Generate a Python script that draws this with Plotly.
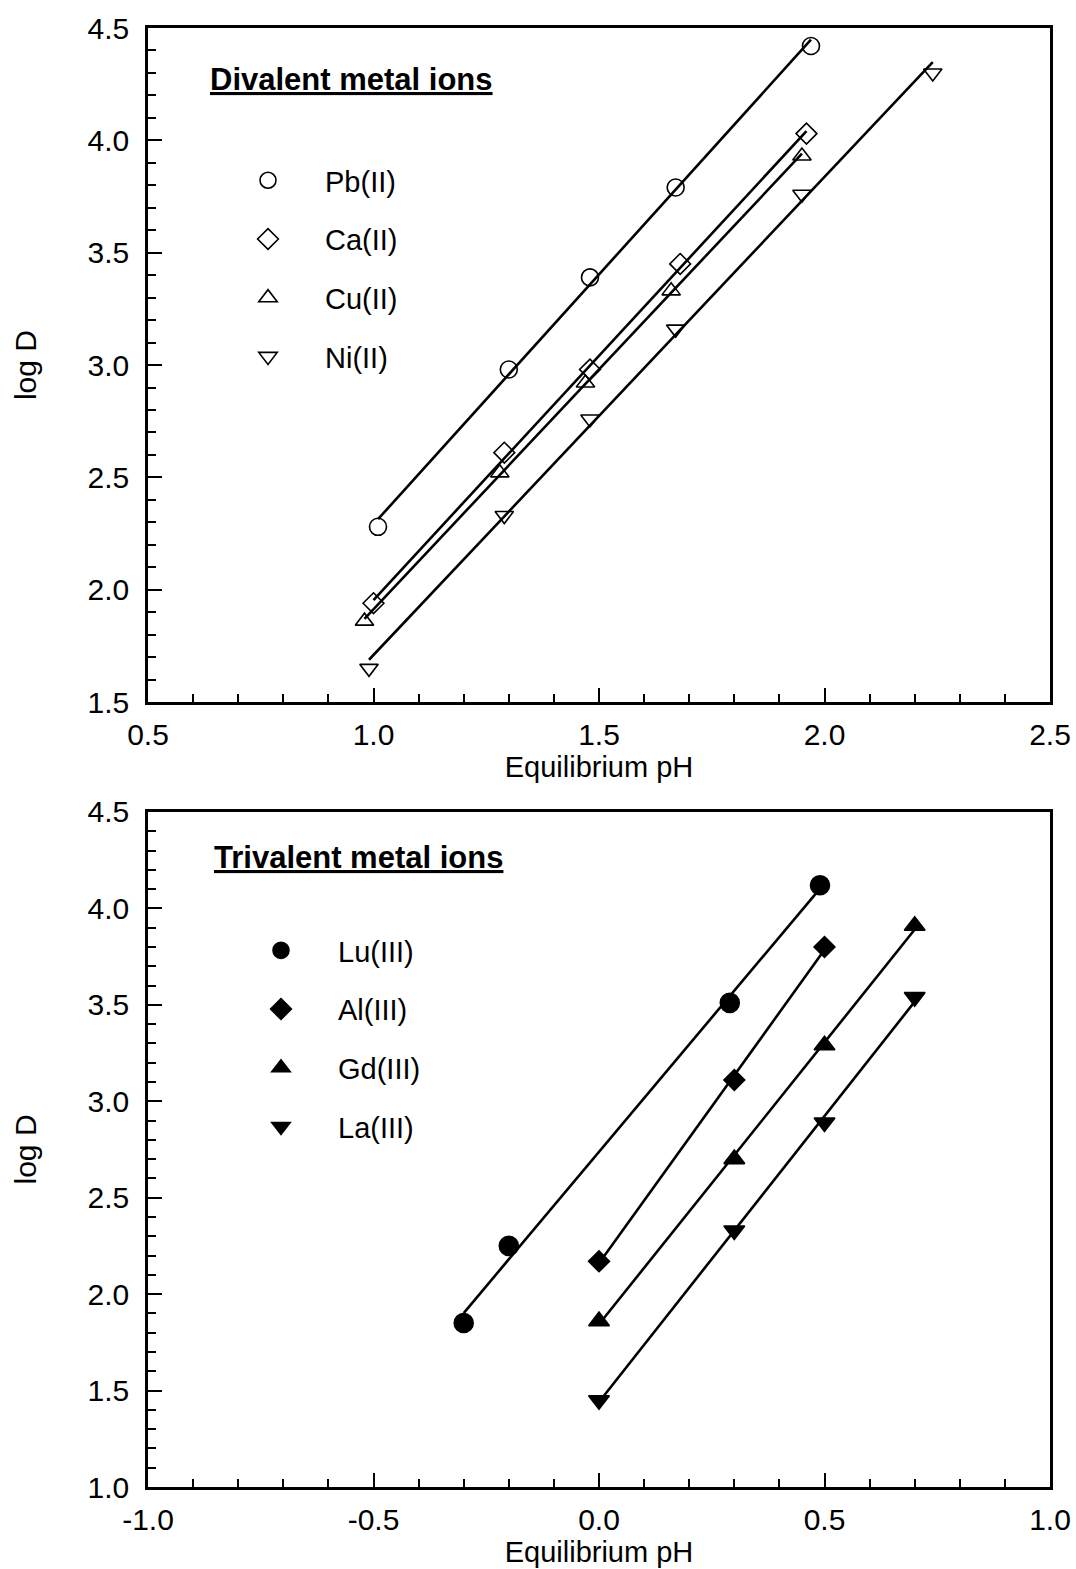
import numpy as np
import plotly.graph_objects as go
from plotly.subplots import make_subplots

# ---- Divalent metal ions (top panel) ----
pb_x = [1.01, 1.30, 1.48, 1.67, 1.97]
pb_y = [2.28, 2.98, 3.39, 3.79, 4.42]
ca_x = [1.00, 1.29, 1.48, 1.68, 1.96]
ca_y = [1.94, 2.61, 2.98, 3.45, 4.03]
cu_x = [0.98, 1.28, 1.47, 1.66, 1.95]
cu_y = [1.86, 2.52, 2.92, 3.33, 3.93]
ni_x = [0.99, 1.29, 1.48, 1.67, 1.95, 2.24]
ni_y = [1.65, 2.33, 2.76, 3.16, 3.76, 4.30]

# ---- Trivalent metal ions (bottom panel) ----
lu_x = [-0.30, -0.20, 0.29, 0.49]
lu_y = [1.85, 2.25, 3.51, 4.12]
al_x = [0.00, 0.30, 0.50]
al_y = [2.17, 3.11, 3.80]
gd_x = [0.00, 0.30, 0.50, 0.70]
gd_y = [1.86, 2.70, 3.29, 3.91]
la_x = [0.00, 0.30, 0.50, 0.70]
la_y = [1.45, 2.33, 2.89, 3.54]

# ---- tick labels ----
top_xticks = [0.5, 1.0, 1.5, 2.0, 2.5]
top_xlabels = ["0.5", "1.0", "1.5", "2.0", "2.5"]
bot_xticks = [-1.0, -0.5, 0.0, 0.5, 1.0]
bot_xlabels = ["-1.0", "-0.5", "0.0", "0.5", "1.0"]
top_yticks = [1.5, 2.0, 2.5, 3.0, 3.5, 4.0, 4.5]
top_ylabels = ["1.5", "2.0", "2.5", "3.0", "3.5", "4.0", "4.5"]
bot_yticks = [1.0, 1.5, 2.0, 2.5, 3.0, 3.5, 4.0, 4.5]
bot_ylabels = ["1.0", "1.5", "2.0", "2.5", "3.0", "3.5", "4.0", "4.5"]

top_series = [
    ("Pb(II)", pb_x, pb_y, "circle-open", 17),
    ("Ca(II)", ca_x, ca_y, "diamond-open", 16),
    ("Cu(II)", cu_x, cu_y, "triangle-up-open", 16),
    ("Ni(II)", ni_x, ni_y, "triangle-down-open", 16),
]
bot_series = [
    ("Lu(III)", lu_x, lu_y, "circle", 19),
    ("Al(III)", al_x, al_y, "diamond", 16),
    ("Gd(III)", gd_x, gd_y, "triangle-up", 18),
    ("La(III)", la_x, la_y, "triangle-down", 18),
]

FONT = "Liberation Sans, Arial, sans-serif"

fig = make_subplots(rows=2, cols=1, vertical_spacing=0.0)


def add_series(series, row, legend):
    for name, xs, ys, sym, size in series:
        xs = np.array(xs)
        ys = np.array(ys)
        k, b = np.polyfit(xs, ys, 1)
        xl = np.array([xs.min(), xs.max()])
        fig.add_trace(go.Scatter(x=xl, y=k * xl + b, mode="lines",
                                 line=dict(color="black", width=2.6),
                                 showlegend=False, hoverinfo="skip"),
                      row=row, col=1)
    for name, xs, ys, sym, size in series:
        fig.add_trace(go.Scatter(x=xs, y=ys, mode="markers", name=name,
                                 legend=legend, legendgroup=legend + name,
                                 marker=dict(symbol=sym, size=size, color="black",
                                             line=dict(color="black", width=1.6)),
                                 cliponaxis=False),
                      row=row, col=1)


add_series(top_series, 1, "legend")
add_series(bot_series, 2, "legend2")

minor = dict(dtick=0.1, ticklen=8, tickwidth=2, ticks="inside", tickcolor="black")
axis_common = dict(
    showline=True, linecolor="black", linewidth=2.5, mirror=True,
    ticks="inside", ticklen=14, tickwidth=2, tickcolor="black",
    showgrid=False, zeroline=False, tickmode="array", minor=minor,
    automargin=False,
    tickfont=dict(family=FONT, size=30, color="black"),
)

fig.update_xaxes(**axis_common)
fig.update_yaxes(**axis_common)

xtitle_font = dict(family=FONT, size=29, color="black")
ytitle_font = dict(family=FONT, size=30, color="black")

fig.update_xaxes(range=[0.5, 2.5], tickvals=top_xticks, ticktext=top_xlabels,
                 title=dict(text="Equilibrium pH", font=xtitle_font, standoff=4),
                 ticklabelstandoff=4, row=1, col=1)
fig.update_xaxes(range=[-1.0, 1.0], tickvals=bot_xticks, ticktext=bot_xlabels,
                 title=dict(text="Equilibrium pH", font=xtitle_font, standoff=4),
                 ticklabelstandoff=4, row=2, col=1)
fig.update_yaxes(range=[1.5, 4.5], tickvals=top_yticks, ticktext=top_ylabels,
                 title=dict(text="log D", font=ytitle_font, standoff=43),
                 ticklabelstandoff=10, domain=[0.538, 1.0], row=1, col=1)
fig.update_yaxes(range=[1.0, 4.5], tickvals=bot_yticks, ticktext=bot_ylabels,
                 title=dict(text="log D", font=ytitle_font, standoff=43),
                 ticklabelstandoff=10, domain=[0.0, 0.4627], row=2, col=1)

fig.add_annotation(text="<b><u>Divalent metal ions</u></b>", xref="x domain", yref="y domain",
                   x=0.066, y=0.923, xanchor="left", yanchor="middle", showarrow=False,
                   font=dict(family=FONT, size=31, color="black"))
fig.add_annotation(text="<b><u>Trivalent metal ions</u></b>", xref="x2 domain", yref="y2 domain",
                   x=0.071, y=0.933, xanchor="left", yanchor="middle", showarrow=False,
                   font=dict(family=FONT, size=31, color="black"))

leg_common = dict(font=dict(family=FONT, size=29, color="black"), bgcolor="rgba(0,0,0,0)",
                  traceorder="grouped", tracegroupgap=18, itemwidth=104,
                  xanchor="left", yanchor="top", itemclick=False, itemdoubleclick=False)
fig.update_layout(
    legend=dict(x=(211 - 148) / 902, y=0.913, xref="paper", yref="paper", **leg_common),
    legend2=dict(x=(224 - 148) / 902, y=0.3852, xref="paper", yref="paper", **leg_common),
)

fig.update_layout(
    width=1076, height=1569,
    margin=dict(l=148, r=26, t=28, b=82),
    plot_bgcolor="white", paper_bgcolor="white",
    font=dict(family=FONT, color="black"),
    showlegend=True,
)

fig.write_html("out.html")
